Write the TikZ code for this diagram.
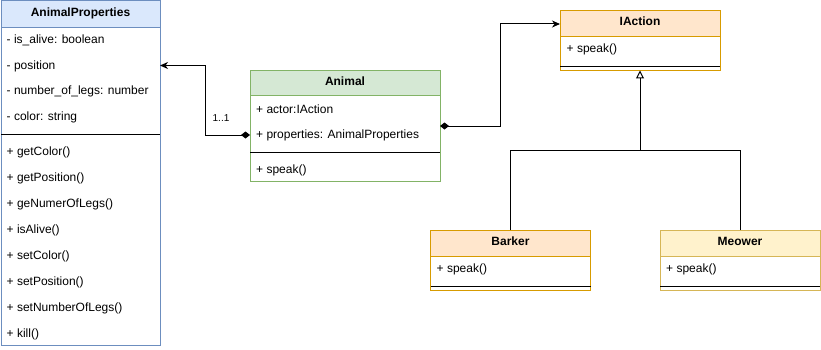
\documentclass[tikz,border=0pt]{standalone}
\usepackage{fontspec}
\setmainfont{Liberation Sans}
\usetikzlibrary{arrows.meta}
\definecolor{blueF}{HTML}{DAE8FC}
\definecolor{blueS}{HTML}{6C8EBF}
\definecolor{greenF}{HTML}{D5E8D4}
\definecolor{greenS}{HTML}{82B366}
\definecolor{orangeF}{HTML}{FFE6CC}
\definecolor{orangeS}{HTML}{D79B00}
\definecolor{yellowF}{HTML}{FFF2CC}
\definecolor{yellowS}{HTML}{D6B656}
\begin{document}
\begin{tikzpicture}[x=1pt,y=-1pt,
  classbox/.style={draw, fill=white, line width=1pt, anchor=north west, inner sep=0pt, outer sep=0pt},
  hdr/.style={draw, line width=1pt, anchor=north west, inner sep=0pt, outer sep=0pt,
    font=\bfseries\fontsize{12}{14}\selectfont, text height=8pt, text depth=3pt},
  row/.style={anchor=west, inner sep=0pt, font=\fontsize{12}{14}\selectfont, text height=8pt, text depth=3pt},
  sepline/.style={line width=1pt, black},
  link/.style={line width=1pt, black},
  aggr/.style={link, {Diamond[length=9pt,width=7pt]}-{Stealth[length=8pt,width=7pt,inset=2.5pt]}},
  gen/.style={link, -{Triangle[open,length=8pt,width=8pt,fill=white]}},
]
\useasboundingbox (0,0) rectangle (821,350);

% ---------- AnimalProperties ----------
\node[classbox, draw=blueS, minimum width=159pt, minimum height=344pt] (ap) at (1,1) {};
\node[hdr, draw=blueS, fill=blueF, minimum width=159pt, minimum height=26.5pt] (ap-h) at (1,1) {AnimalProperties};
\node[row] (ap-a1) at (6.5,41.3) {- is\_alive: boolean};
\node[row] (ap-a2) at (6.5,66.8) {- position};
\node[row] (ap-a3) at (6.5,92.3) {- number\_of\_legs: number};
\node[row] (ap-a4) at (6.5,117.8) {- color: string};
\draw[sepline] (1,134.5) -- (160,134.5);
\node[row] (ap-m1) at (6.5,153.3) {+ getColor()};
\node[row] (ap-m2) at (6.5,179.2) {+ getPosition()};
\node[row] (ap-m3) at (6.5,205.1) {+ geNumerOfLegs()};
\node[row] (ap-m4) at (6.5,231) {+ isAlive()};
\node[row] (ap-m5) at (6.5,256.9) {+ setColor()};
\node[row] (ap-m6) at (6.5,282.8) {+ setPosition()};
\node[row] (ap-m7) at (6.5,308.7) {+ setNumberOfLegs()};
\node[row] (ap-m8) at (6.5,334.6) {+ kill()};

% ---------- Animal ----------
\node[classbox, draw=greenS, minimum width=190pt, minimum height=111pt] (an) at (250,70.5) {};
\node[hdr, draw=greenS, fill=greenF, minimum width=190pt, minimum height=25.5pt] (an-h) at (250,70.5) {Animal};
\node[row] (an-a1) at (256,111.2) {+ actor:IAction};
\node[row] (an-a2) at (256,136.5) {+ properties: AnimalProperties};
\draw[sepline] (250,152) -- (440,152);
\node[row] (an-m1) at (256,170.5) {+ speak()};

% ---------- IAction ----------
\node[classbox, draw=orangeS, minimum width=160pt, minimum height=60pt] (ia) at (560,10.5) {};
\node[hdr, draw=orangeS, fill=orangeF, minimum width=160pt, minimum height=26pt] (ia-h) at (560,10.5) {IAction};
\node[row] (ia-m1) at (566.5,50.5) {+ speak()};
\draw[sepline] (560,66.5) -- (720,66.5);

% ---------- Barker ----------
\node[classbox, draw=orangeS, minimum width=160pt, minimum height=60pt] (ba) at (430.5,230) {};
\node[hdr, draw=orangeS, fill=orangeF, minimum width=160pt, minimum height=26.5pt] (ba-h) at (430.5,230) {Barker};
\node[row] (ba-m1) at (436.5,269.8) {+ speak()};
\draw[sepline] (430.5,286) -- (590.5,286);

% ---------- Meower ----------
\node[classbox, draw=yellowS, minimum width=160pt, minimum height=60pt] (me) at (660,230) {};
\node[hdr, draw=yellowS, fill=yellowF, minimum width=160pt, minimum height=26.5pt] (me-h) at (660,230) {Meower};
\node[row] (me-m1) at (666,269.8) {+ speak()};
\draw[sepline] (660,286) -- (820,286);

% ---------- connectors ----------
\coordinate (an-out1) at (250,135);
\coordinate (ap-in) at (160,65.5);
\draw[aggr] (an-out1) -- ++(-45,0) |- (ap-in);
\node[inner sep=0pt, font=\fontsize{10}{12}\selectfont] (lbl) at (221,118) {1..1};

\coordinate (ia-in) at (560,24);
\draw[aggr] (an.east) -- ++(60,0) |- (ia-in);

\coordinate (join) at (640,150);
\draw[link] (ba.north) |- (join);
\draw[link] (me.north) |- (join);
\draw[gen] (join) -- (ia.south);
\end{tikzpicture}
\end{document}
